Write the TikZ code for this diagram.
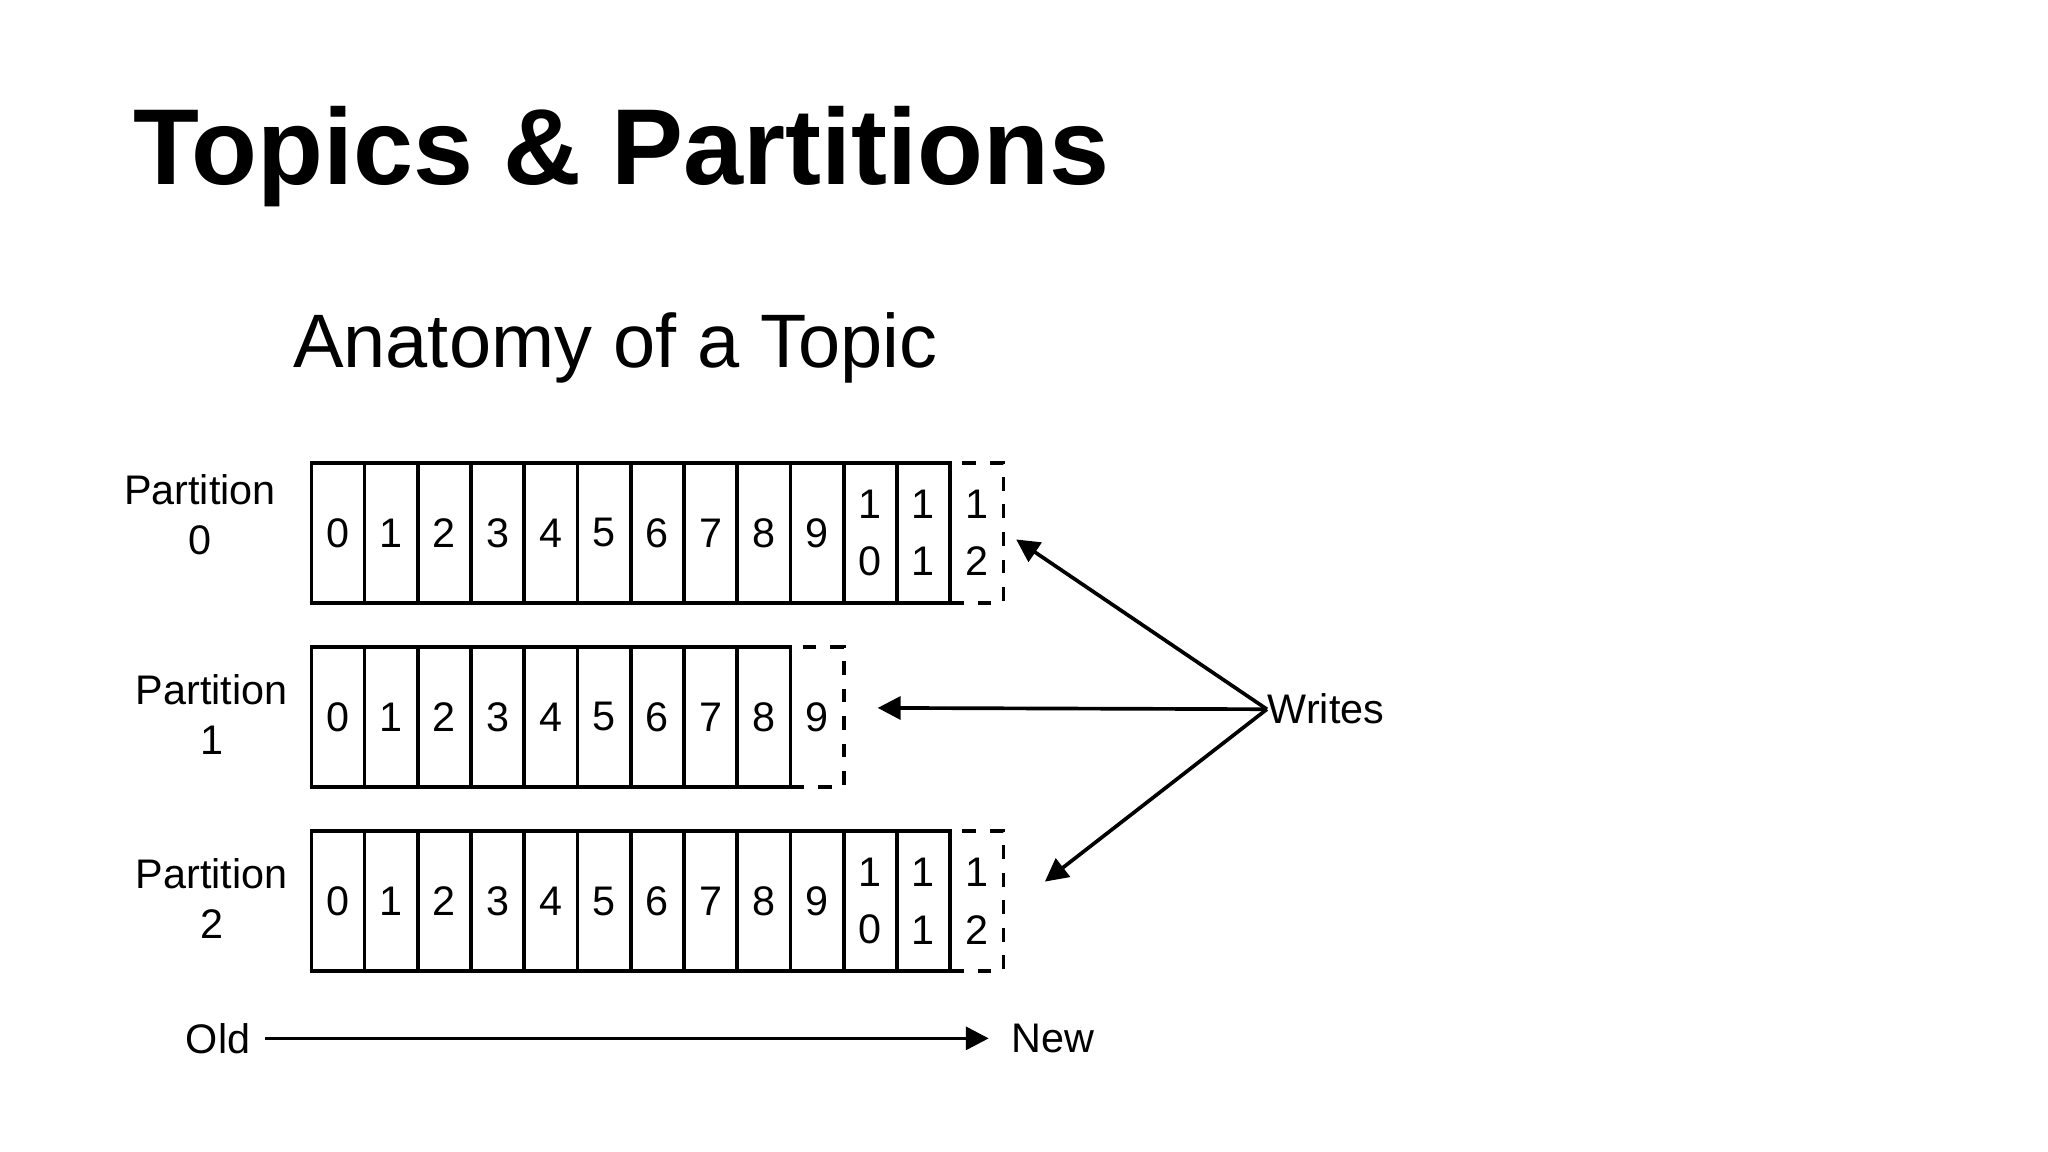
\documentclass[tikz,border=0pt]{standalone}
\usepackage{fontspec}
\setmainfont{Liberation Sans}
\usetikzlibrary{arrows.meta}
\begin{document}
\begin{tikzpicture}[x=0.01cm,y=-0.01cm,
  cell/.style={draw,line width=0.8pt,minimum width=0.4075cm,minimum height=1.07cm,inner sep=0pt,anchor=north west,font=\fontsize{9}{10.5}\selectfont,align=center},
  newcell/.style={cell,dashed},
  lbl/.style={font=\fontsize{9}{11}\selectfont,align=center,inner sep=1pt},
  arr/.style={-{Triangle[length=5pt,width=5pt]},line width=0.8pt}]
\useasboundingbox (0,0) rectangle (1568,882);
\node[anchor=west,font=\fontsize{23.5}{28}\selectfont\bfseries] (title) at (90,120) {Topics \& Partitions};
\node[anchor=west,font=\fontsize{16.5}{20}\selectfont] (sub) at (212,266) {Anatomy of a Topic};
\foreach \r/\y/\n in {0/353/12,1/494/9,2/635/12}{
  \pgfmathtruncatemacro{\last}{\n-1}
  \foreach \i in {0,...,\last}{
    \ifnum\i<10
      \node[cell] (p\r c\i) at ({237+40.75*\i},\y) {\i};
    \else
      \pgfmathtruncatemacro{\d}{\i-10}
      \node[cell] (p\r c\i) at ({237+40.75*\i},\y) {1\\[2pt]\d};
    \fi
  }
  \ifnum\n=12
    \node[newcell] (p\r n) at ({237+40.75*\n},\y) {1\\[2pt]2};
  \else
    \node[newcell] (p\r n) at ({237+40.75*\n},\y) {\n};
  \fi
}
\node[lbl] (l0) at (153,394) {Partition\\0};
\node[lbl] (l1) at (162,547) {Partition\\1};
\node[lbl] (l2) at (162,688) {Partition\\2};
\node[lbl,anchor=west,inner sep=0pt] (w) at (970,543) {Writes};
\coordinate (t0) at (778,413);
\coordinate (t1) at (672,542);
\coordinate (t2) at (800,675);
\draw[arr] (w.west) -- (t0);
\draw[arr] (w.west) -- (t1);
\draw[arr] (w.west) -- (t2);
\node[lbl] (old) at (167,795) {Old};
\node[lbl] (new) at (806,795) {New};
\draw[arr] (203,795) -- (757,795);
\end{tikzpicture}
\end{document}
